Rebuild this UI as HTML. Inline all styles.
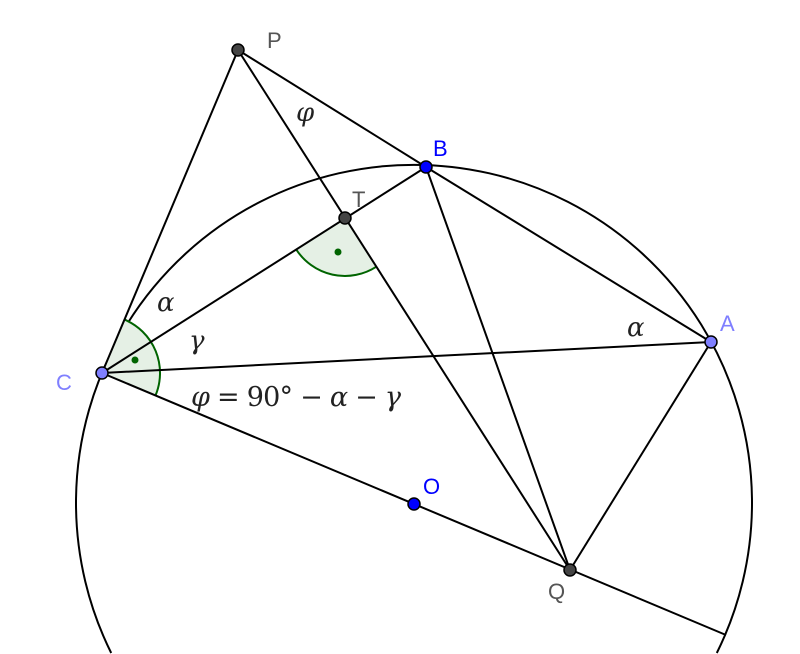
<!DOCTYPE html>
<html><head><meta charset="utf-8"><style>
html,body{margin:0;padding:0;background:#fff;width:800px;height:654px;overflow:hidden;}
svg{display:block;overflow:hidden;}
.lbl{font-family:"Liberation Sans",sans-serif;font-size:22px;}
.gr{font-family:"DejaVu Serif","Liberation Serif",serif;font-style:italic;font-size:26px;fill:#222;}
</style></head><body>
<svg width="800" height="654" viewBox="0 0 800 654" xmlns="http://www.w3.org/2000/svg">
<path d="M111.2,653 A338,338 0 1 1 716.8,653" fill="none" stroke="#000" stroke-width="2"/>
<path d="M102,373 L124.5,319.6 A58,58 0 0 1 155.5,395.5 Z" fill="#e5f0e5" stroke="none"/>
<path d="M124.5,319.6 A58,58 0 0 1 155.5,395.5" fill="none" stroke="#006400" stroke-width="2"/>
<path d="M345,218 L376.2,266.8 A58,58 0 0 1 296,249.1 Z" fill="#e5f0e5" stroke="none"/>
<path d="M376.2,266.8 A58,58 0 0 1 296,249.1" fill="none" stroke="#006400" stroke-width="2"/>
<circle cx="135" cy="360" r="3.5" fill="#006400"/>
<circle cx="338" cy="252" r="3.5" fill="#006400"/>
<g stroke="#000" stroke-width="2" fill="none">
<line x1="238" y1="50" x2="102" y2="373"/>
<line x1="238" y1="50" x2="426" y2="167"/>
<line x1="238" y1="50" x2="570" y2="570"/>
<line x1="102" y1="373" x2="426" y2="167"/>
<line x1="426" y1="167" x2="711" y2="342"/>
<line x1="426" y1="167" x2="570" y2="570"/>
<line x1="711" y1="342" x2="570" y2="570"/>
<line x1="102" y1="373" x2="711" y2="342"/>
<line x1="102" y1="373" x2="726" y2="635"/>
</g>
<g stroke="#000" stroke-width="1.5">
<circle cx="238" cy="50" r="6" fill="#444"/>
<circle cx="345" cy="218" r="6" fill="#444"/>
<circle cx="570" cy="570" r="6" fill="#444"/>
<circle cx="426" cy="167" r="6" fill="#0000ff"/>
<circle cx="414" cy="504" r="6" fill="#0000ff"/>
<circle cx="711" cy="342" r="6" fill="#7f7fff"/>
<circle cx="102" cy="373" r="6" fill="#7f7fff"/>
</g>
<text class="lbl" x="267" y="48" fill="#555">P</text>
<text class="lbl" x="433" y="156" fill="#0000ff">B</text>
<text class="lbl" x="352" y="207" fill="#555">T</text>
<text class="lbl" x="720" y="331" fill="#7f7fff">A</text>
<text class="lbl" x="56" y="390" fill="#7f7fff">C</text>
<text class="lbl" x="423" y="494" fill="#0000ff">O</text>
<text class="lbl" x="548" y="599" fill="#555">Q</text>
<text class="gr" x="296" y="121">φ</text>
<text class="gr" x="157" y="311">α</text>
<text class="gr" x="189" y="349">γ</text>
<text class="gr" x="627" y="336">α</text>
<text class="gr" x="191" y="406" style="font-size:27px" textLength="210" lengthAdjust="spacing">φ <tspan style="font-style:normal">= 90° −</tspan> α <tspan style="font-style:normal">−</tspan> γ</text>
</svg>
</body></html>
